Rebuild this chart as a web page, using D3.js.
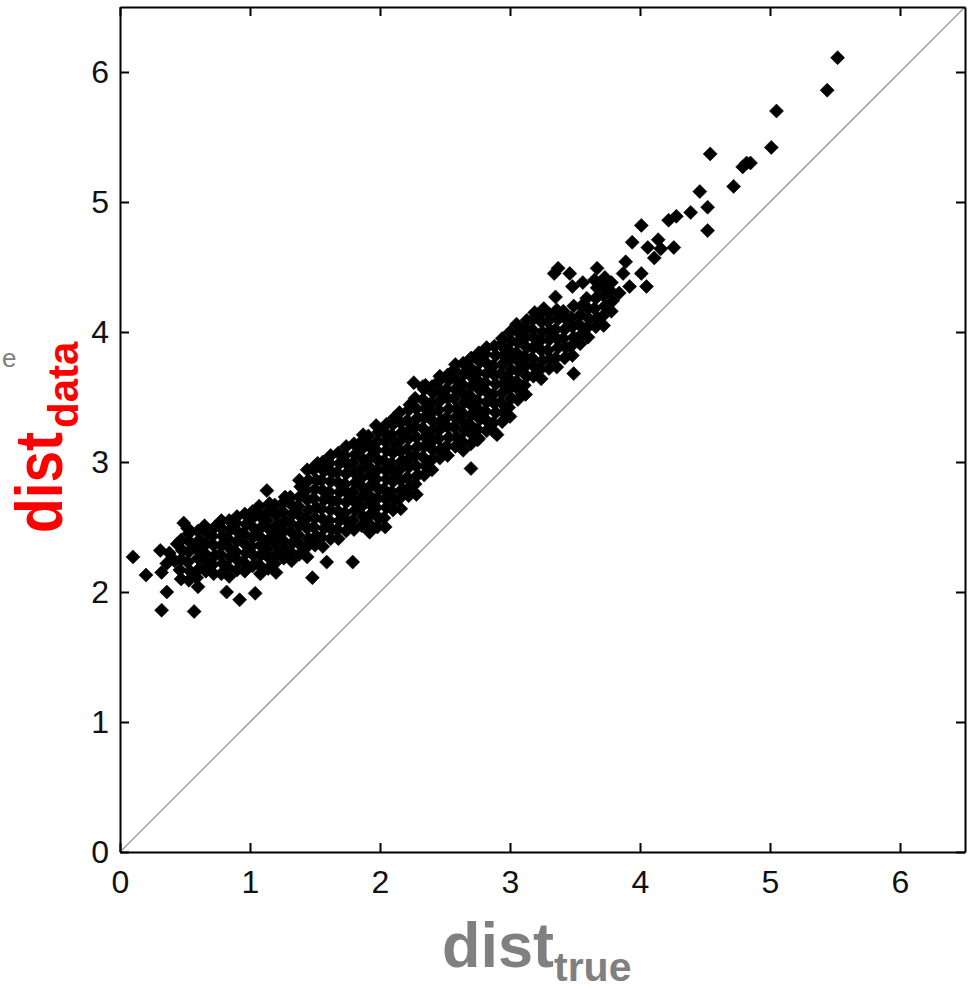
<!DOCTYPE html>
<html>
<head>
<meta charset="utf-8">
<script src="https://cdn.jsdelivr.net/npm/d3@7"></script>
<style>
  html, body { margin: 0; padding: 0; background: #fff; }
  svg { display: block; }
</style>
</head>
<body>
<svg id="chart" width="976" height="989"></svg>
<script>
// ---------- data ----------
const xTicks = [0, 1, 2, 3, 4, 5, 6];
const yTicks = [0, 1, 2, 3, 4, 5, 6];
const axisDomain = [0, 6.5];
const xLabelMain = "dist", xLabelSub = "true";
const yLabelMain = "dist", yLabelSub = "data";
const strayText = "e";

// sparse points on the left (outliers / start of cloud)
const leftPoints = [
  [0.10,2.27],[0.20,2.13],[0.32,2.15],[0.36,2.00],[0.32,1.86],[0.57,1.85],
  [0.82,2.00],[0.92,1.94],[1.04,1.99],[1.48,2.11],[1.59,2.23],[1.79,2.23],
  [1.13,2.78],[1.44,2.94],[1.52,2.99],[0.31,2.32],[0.38,2.30],[0.42,2.24],
  [0.36,2.22],[0.49,2.53],[0.44,2.37]
];

// dense band of points
const bandPoints = [
  [0.47,2.10],[0.46,2.17],[0.47,2.25],[0.48,2.32],[0.47,2.40],
  [0.53,2.09],[0.54,2.16],[0.52,2.23],[0.53,2.31],[0.54,2.38],[0.53,2.45],[0.52,2.49],
  [0.60,2.04],[0.59,2.11],[0.61,2.18],[0.60,2.26],[0.59,2.33],[0.61,2.40],[0.60,2.47],
  [0.66,2.16],[0.67,2.23],[0.65,2.30],[0.66,2.37],[0.67,2.45],[0.65,2.51],
  [0.72,2.14],[0.71,2.21],[0.73,2.28],[0.72,2.36],[0.71,2.43],[0.73,2.50],
  [0.78,2.14],[0.79,2.22],[0.77,2.29],[0.78,2.36],[0.79,2.43],[0.77,2.50],[0.78,2.55],
  [0.84,2.12],[0.83,2.19],[0.85,2.27],[0.84,2.34],[0.83,2.41],[0.85,2.48],[0.84,2.55],
  [0.90,2.17],[0.91,2.24],[0.89,2.31],[0.90,2.39],[0.91,2.46],[0.89,2.53],[0.90,2.58],
  [0.96,2.16],[0.95,2.23],[0.97,2.30],[0.96,2.37],[0.95,2.45],[0.97,2.52],[0.96,2.60],
  [1.02,2.20],[1.03,2.28],[1.01,2.35],[1.02,2.42],[1.03,2.49],[1.01,2.56],[1.02,2.62],
  [1.08,2.14],[1.07,2.21],[1.09,2.29],[1.08,2.36],[1.07,2.43],[1.09,2.50],[1.08,2.58],[1.07,2.66],
  [1.14,2.18],[1.15,2.26],[1.13,2.33],[1.14,2.40],[1.15,2.48],[1.13,2.55],[1.14,2.62],[1.15,2.68],
  [1.20,2.15],[1.19,2.22],[1.21,2.30],[1.20,2.37],[1.19,2.44],[1.21,2.52],[1.20,2.59],[1.19,2.67],
  [1.26,2.26],[1.27,2.33],[1.25,2.40],[1.26,2.47],[1.27,2.55],[1.25,2.62],[1.26,2.69],[1.27,2.73],
  [1.32,2.24],[1.31,2.31],[1.33,2.38],[1.32,2.46],[1.31,2.53],[1.33,2.60],[1.32,2.67],[1.31,2.73],
  [1.38,2.29],[1.39,2.36],[1.37,2.44],[1.38,2.51],[1.39,2.58],[1.37,2.66],[1.38,2.73],[1.39,2.81],[1.38,2.86],
  [1.44,2.27],[1.43,2.34],[1.45,2.41],[1.44,2.49],[1.43,2.56],[1.45,2.63],[1.44,2.71],[1.43,2.78],[1.45,2.86],
  [1.50,2.36],[1.51,2.43],[1.49,2.50],[1.50,2.57],[1.51,2.65],[1.49,2.72],[1.50,2.79],[1.51,2.86],[1.49,2.94],[1.50,2.97],
  [1.56,2.35],[1.55,2.42],[1.57,2.49],[1.56,2.56],[1.55,2.64],[1.57,2.71],[1.56,2.78],[1.55,2.86],[1.57,2.93],[1.56,3.00],
  [1.62,2.41],[1.63,2.48],[1.61,2.55],[1.62,2.63],[1.63,2.70],[1.61,2.77],[1.62,2.85],[1.63,2.92],[1.61,2.99],[1.62,3.05],
  [1.68,2.41],[1.67,2.48],[1.69,2.55],[1.68,2.62],[1.67,2.70],[1.69,2.77],[1.68,2.84],[1.67,2.92],[1.69,2.99],[1.68,3.07],
  [1.74,2.47],[1.75,2.54],[1.73,2.61],[1.74,2.69],[1.75,2.76],[1.73,2.83],[1.74,2.91],[1.75,2.98],[1.73,3.05],[1.74,3.12],
  [1.80,2.48],[1.79,2.55],[1.81,2.63],[1.80,2.70],[1.79,2.77],[1.81,2.84],[1.80,2.92],[1.79,2.99],[1.81,3.06],[1.80,3.14],
  [1.86,2.51],[1.87,2.58],[1.85,2.65],[1.86,2.73],[1.87,2.80],[1.85,2.87],[1.86,2.95],[1.87,3.02],[1.85,3.09],[1.86,3.16],[1.87,3.21],
  [1.92,2.46],[1.91,2.53],[1.93,2.60],[1.92,2.68],[1.91,2.75],[1.93,2.82],[1.92,2.90],[1.91,2.97],[1.93,3.04],[1.92,3.12],[1.91,3.20],
  [1.98,2.50],[1.99,2.57],[1.97,2.65],[1.98,2.72],[1.99,2.79],[1.97,2.87],[1.98,2.94],[1.99,3.01],[1.97,3.09],[1.98,3.16],[1.99,3.23],[1.97,3.28],
  [2.04,2.50],[2.03,2.57],[2.05,2.65],[2.04,2.72],[2.03,2.79],[2.05,2.87],[2.04,2.94],[2.03,3.01],[2.05,3.09],[2.04,3.16],[2.03,3.23],[2.05,3.29],
  [2.10,2.63],[2.11,2.70],[2.09,2.77],[2.10,2.85],[2.11,2.92],[2.09,2.99],[2.10,3.07],[2.11,3.14],[2.09,3.21],[2.10,3.29],[2.11,3.34],
  [2.16,2.64],[2.15,2.72],[2.17,2.79],[2.16,2.86],[2.15,2.94],[2.17,3.01],[2.16,3.08],[2.15,3.16],[2.17,3.23],[2.16,3.30],[2.15,3.38],
  [2.22,2.74],[2.23,2.81],[2.21,2.88],[2.22,2.96],[2.23,3.03],[2.21,3.10],[2.22,3.18],[2.23,3.25],[2.21,3.32],[2.22,3.40],[2.23,3.44],
  [2.28,2.75],[2.27,2.83],[2.29,2.90],[2.28,2.97],[2.27,3.05],[2.29,3.12],[2.28,3.19],[2.27,3.27],[2.29,3.34],[2.28,3.41],[2.27,3.49],
  [2.34,2.90],[2.35,2.97],[2.33,3.04],[2.34,3.12],[2.35,3.19],[2.33,3.26],[2.34,3.34],[2.35,3.41],[2.33,3.48],[2.34,3.56],[2.35,3.59],
  [2.40,2.94],[2.39,3.01],[2.41,3.09],[2.40,3.16],[2.39,3.23],[2.41,3.31],[2.40,3.38],[2.39,3.45],[2.41,3.53],[2.40,3.58],
  [2.46,3.03],[2.47,3.10],[2.45,3.18],[2.46,3.25],[2.47,3.32],[2.45,3.40],[2.46,3.47],[2.47,3.54],[2.45,3.62],[2.46,3.66],
  [2.52,3.05],[2.51,3.12],[2.53,3.19],[2.52,3.27],[2.51,3.34],[2.53,3.41],[2.52,3.49],[2.51,3.56],[2.53,3.63],[2.52,3.67],
  [2.58,3.12],[2.59,3.19],[2.57,3.27],[2.58,3.34],[2.59,3.41],[2.57,3.49],[2.58,3.56],[2.59,3.63],[2.57,3.71],[2.58,3.75],
  [2.64,3.09],[2.63,3.16],[2.65,3.24],[2.64,3.31],[2.63,3.38],[2.65,3.46],[2.64,3.53],[2.63,3.60],[2.65,3.68],[2.64,3.76],
  [2.70,3.14],[2.71,3.21],[2.69,3.29],[2.70,3.36],[2.71,3.43],[2.69,3.51],[2.70,3.58],[2.71,3.65],[2.69,3.73],[2.70,3.80],
  [2.76,3.18],[2.75,3.25],[2.77,3.33],[2.76,3.40],[2.75,3.47],[2.77,3.55],[2.76,3.62],[2.75,3.69],[2.77,3.77],[2.76,3.84],
  [2.82,3.24],[2.83,3.31],[2.81,3.39],[2.82,3.46],[2.83,3.53],[2.81,3.61],[2.82,3.68],[2.83,3.75],[2.81,3.83],[2.82,3.88],
  [2.88,3.23],[2.87,3.30],[2.89,3.38],[2.88,3.45],[2.87,3.52],[2.89,3.60],[2.88,3.67],[2.87,3.74],[2.89,3.82],[2.88,3.89],
  [2.94,3.31],[2.95,3.38],[2.93,3.46],[2.94,3.53],[2.95,3.60],[2.93,3.68],[2.94,3.75],[2.95,3.82],[2.93,3.90],[2.94,3.95],
  [3.00,3.35],[2.99,3.42],[3.01,3.49],[3.00,3.57],[2.99,3.64],[3.01,3.71],[3.00,3.79],[2.99,3.86],[3.01,3.93],[3.00,4.00],
  [3.06,3.48],[3.07,3.55],[3.05,3.62],[3.06,3.70],[3.07,3.77],[3.05,3.84],[3.06,3.92],[3.07,3.99],[3.05,4.06],
  [3.12,3.52],[3.11,3.59],[3.13,3.66],[3.12,3.74],[3.11,3.81],[3.13,3.88],[3.12,3.96],[3.11,4.03],[3.13,4.09],
  [3.18,3.66],[3.19,3.73],[3.17,3.80],[3.18,3.88],[3.19,3.95],[3.17,4.02],[3.18,4.10],[3.19,4.15],
  [3.24,3.64],[3.23,3.71],[3.25,3.78],[3.24,3.86],[3.23,3.93],[3.25,4.00],[3.24,4.08],[3.23,4.14],
  [3.30,3.72],[3.31,3.79],[3.29,3.86],[3.30,3.94],[3.31,4.01],[3.29,4.08],[3.30,4.14],
  [3.36,3.73],[3.35,3.80],[3.37,3.88],[3.36,3.95],[3.35,4.02],[3.37,4.10],[3.36,4.17],
  [3.42,3.80],[3.43,3.88],[3.41,3.95],[3.42,4.02],[3.43,4.10],[3.41,4.16],
  [3.48,3.82],[3.47,3.89],[3.49,3.96],[3.48,4.04],[3.47,4.11],[3.49,4.20],
  [3.54,3.91],[3.55,3.98],[3.53,4.06],[3.54,4.13],[3.55,4.20],
  [3.60,3.96],[3.59,4.03],[3.61,4.10],[3.60,4.18],[3.59,4.26],
  [3.66,4.04],[3.67,4.11],[3.65,4.18],[3.66,4.26],[3.67,4.34],[3.65,4.40],
  [3.72,4.05],[3.71,4.12],[3.73,4.20],[3.72,4.28],[3.71,4.36],
  [3.78,4.16],[3.79,4.24],[3.77,4.32],[3.78,4.38]
];

// sparse points around and above the band on the right
const rightPoints = [
  [2.70,2.95],[2.75,3.17],[2.90,3.21],[3.49,3.68],[2.26,3.61],[2.33,3.58],
  [3.34,4.45],[3.37,4.49],[3.46,4.45],[3.56,4.38],[3.48,4.35],[3.67,4.49],
  [3.73,4.42],[3.87,4.45],[3.92,4.35],[3.35,4.27],[3.26,4.18],[3.84,4.30],
  [4.05,4.35],[4.01,4.45],[3.89,4.54],[4.11,4.57],[4.06,4.65],[4.14,4.71],
  [4.16,4.64],[3.94,4.69],[4.26,4.65],[4.01,4.82],[4.22,4.86],[4.28,4.89],
  [4.39,4.92],[4.52,4.78],[4.52,4.96],[4.46,5.08],[4.72,5.12],[4.79,5.27],
  [4.82,5.30],[4.85,5.30],[4.54,5.37],[5.01,5.42],[5.05,5.70],[5.44,5.86],
  [5.52,6.11]
];

const points = leftPoints.concat(bandPoints, rightPoints);

// ---------- drawing ----------
const svg = d3.select("#chart");
const x = d3.scaleLinear().domain(axisDomain).range([120, 965]);
const y = d3.scaleLinear().domain(axisDomain).range([852, 7]);

// diagonal reference line
svg.append("line")
  .attr("x1", x(axisDomain[0])).attr("y1", y(axisDomain[0]))
  .attr("x2", x(axisDomain[1])).attr("y2", y(axisDomain[1]))
  .attr("stroke", "#999").attr("stroke-width", 1.3);

// diamond symbol
const diamond = {
  draw(ctx, size) {
    const r = Math.sqrt(size / 2);
    ctx.moveTo(0, -r); ctx.lineTo(r, 0); ctx.lineTo(0, r); ctx.lineTo(-r, 0); ctx.closePath();
  }
};
const sym = d3.symbol(diamond, 2 * 7 * 7);

svg.append("g").selectAll("path").data(points).join("path")
  .attr("d", sym)
  .attr("transform", d => `translate(${x(d[0])},${y(d[1])})`)
  .attr("fill", "#000")
  .attr("stroke", "#000").attr("stroke-width", 0.6);

// axes
const fontFam = "'Liberation Sans', Arial, sans-serif";
function styleAxis(g) {
  g.select(".domain").attr("stroke", "#000").attr("stroke-width", 2);
  g.selectAll(".tick line").attr("stroke", "#000").attr("stroke-width", 2);
  g.selectAll(".tick text").attr("fill", "#111").style("font-family", fontFam).style("font-size", "32px");
}
svg.append("g").attr("transform", `translate(0,${y(0)})`)
  .call(d3.axisBottom(x).tickValues(xTicks).tickSize(-9).tickSizeOuter(0).tickPadding(18).tickFormat(d3.format("d")))
  .call(styleAxis)
  .call(g => g.selectAll(".tick text").attr("dy", "0.71em"));
svg.append("g").attr("transform", `translate(0,${y(6.5)})`)
  .call(d3.axisTop(x).tickValues(xTicks).tickSize(-9).tickSizeOuter(0).tickFormat(""))
  .call(styleAxis);
svg.append("g").attr("transform", `translate(${x(0)},0)`)
  .call(d3.axisLeft(y).tickValues(yTicks).tickSize(-9).tickSizeOuter(0).tickPadding(11).tickFormat(d3.format("d")))
  .call(styleAxis);
svg.append("g").attr("transform", `translate(${x(6.5)},0)`)
  .call(d3.axisRight(y).tickValues(yTicks).tickSize(-9).tickSizeOuter(0).tickFormat(""))
  .call(styleAxis);

// x label
const xl = svg.append("text").attr("x", 442).attr("y", 967)
  .style("font-family", fontFam).style("font-weight", "bold").attr("fill", "#808080");
xl.append("tspan").style("font-size", "63px").text(xLabelMain);
xl.append("tspan").attr("dy", 14).style("font-size", "41px").text(xLabelSub);

// y label (rotated)
const yl = svg.append("g").attr("transform", "translate(62,533) rotate(-90)");
yl.append("text").attr("x", 0).attr("y", 0)
  .style("font-family", fontFam).style("font-weight", "bold").style("font-size", "67px")
  .attr("fill", "#ff0000")
  .attr("textLength", 101).attr("lengthAdjust", "spacingAndGlyphs")
  .text(yLabelMain);
yl.append("text").attr("x", 105).attr("y", 16)
  .style("font-family", fontFam).style("font-weight", "bold").style("font-size", "42px")
  .attr("fill", "#ff0000")
  .text(yLabelSub);

// stray label fragment at left edge
svg.append("text").attr("x", 2).attr("y", 367)
  .style("font-family", fontFam).style("font-size", "26px").attr("fill", "#808080")
  .text(strayText);
</script>
</body>
</html>
